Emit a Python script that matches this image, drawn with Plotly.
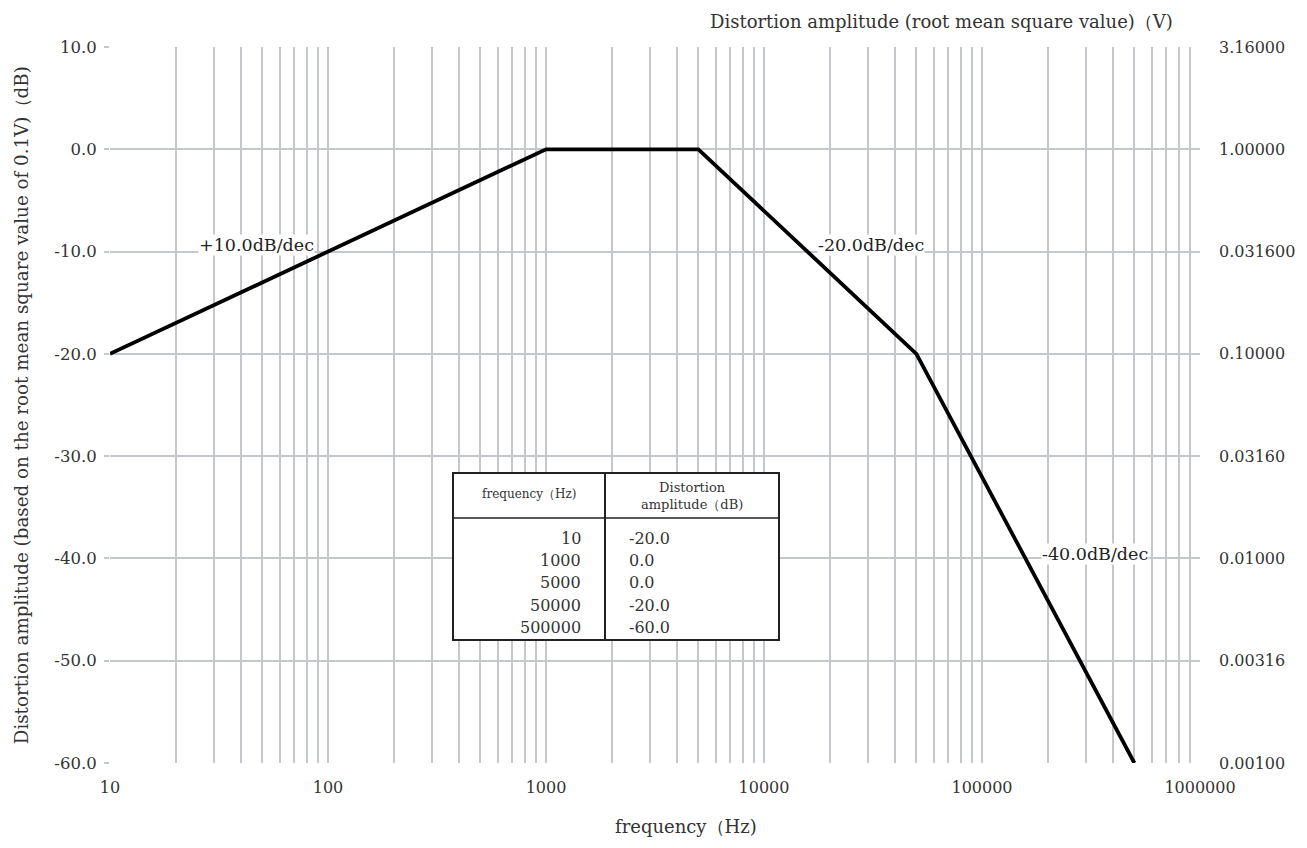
import math
import plotly.graph_objects as go

# ---- data ----
freq_hz = [10, 1000, 5000, 50000, 500000]
amp_db = [-20.0, 0.0, 0.0, -20.0, -60.0]

y_ticks_db = [10, 0, -10, -20, -30, -40, -50, -60]
y_tick_left = ["10.0", "0.0", "-10.0", "-20.0", "-30.0", "-40.0", "-50.0", "-60.0"]
y_tick_right = ["3.16000", "1.00000", "0.031600", "0.10000", "0.03160", "0.01000", "0.00316", "0.00100"]

x_decades = [10, 100, 1000, 10000, 100000, 1000000]
x_decade_labels = ["10", "100", "1000", "10000", "100000", "1000000"]

slope_labels = ["+10.0dB/dec", "-20.0dB/dec", "-40.0dB/dec"]
slope_pos_x = [47, 31000, 330000]
slope_pos_y = [-9.4, -9.4, -39.6]

FONT = "DejaVu Serif, Liberation Serif, serif"
GRID = "#c4c8cc"
TXT = "#333333"

# all 1..9 multiples for grid
x_tickvals, x_ticktext = [], []
for i, d in enumerate(x_decades[:-1]):
    for m in range(1, 10):
        x_tickvals.append(d * m)
        x_ticktext.append(x_decade_labels[i] if m == 1 else "")
x_tickvals.append(x_decades[-1])
x_ticktext.append(x_decade_labels[-1])

fig = go.Figure()
fig.add_trace(go.Scatter(x=freq_hz, y=amp_db, mode="lines",
                         line=dict(color="black", width=3.8), showlegend=False,
                         hoverinfo="skip"))
fig.add_trace(go.Scatter(x=freq_hz, y=amp_db, yaxis="y2", mode="lines",
                         line=dict(color="rgba(0,0,0,0)", width=0), showlegend=False,
                         hoverinfo="skip"))

fig.update_layout(
    width=1307, height=848,
    margin=dict(l=110, r=107, t=47, b=85),
    paper_bgcolor="white", plot_bgcolor="white",
    font=dict(family=FONT, size=14, color=TXT),
    xaxis=dict(type="log", range=[1, 6], tickvals=x_tickvals, ticktext=x_ticktext,
               showgrid=True, gridcolor=GRID, gridwidth=2, zeroline=False,
               ticks="", ticklabelstandoff=13, showline=False,
               tickfont=dict(size=16, color=TXT)),
    yaxis=dict(range=[-60, 10], tickvals=y_ticks_db, ticktext=y_tick_left,
               showgrid=True, gridcolor=GRID, gridwidth=1.5, zeroline=False,
               ticks="outside", ticklen=5, tickcolor=GRID, tickwidth=1.5,
               ticklabelstandoff=4,
               showline=False, tickfont=dict(size=16.5, color=TXT)),
    yaxis2=dict(range=[-60, 10], overlaying="y", side="right", tickvals=y_ticks_db,
                ticktext=y_tick_right, showgrid=False, zeroline=False, ticks="",
                ticklabelstandoff=18, tickfont=dict(size=16, color=TXT)),
)

ann = []
for t, x, y in zip(slope_labels, slope_pos_x, slope_pos_y):
    ann.append(dict(x=math.log10(x), y=y, xref="x", yref="y", text=t, showarrow=False,
                    xanchor="center", yanchor="middle",
                    bgcolor="white", font=dict(size=17.5, color="#222"), borderpad=0))

# titles
ann.append(dict(x=-0.0814, y=0.5, xref="paper", yref="paper", textangle=-90,
                text="Distortion amplitude (based on the root mean square value of 0.1V)（dB)",
                showarrow=False, font=dict(size=18.3, color=TXT), xanchor="center", yanchor="middle"))
ann.append(dict(x=0.977, y=1.035, xref="paper", yref="paper",
                text="Distortion amplitude (root mean square value)（V)",
                showarrow=False, font=dict(size=18, color=TXT), xanchor="right", yanchor="middle"))
ann.append(dict(x=0.528, y=-0.0880, xref="paper", yref="paper",
                text="frequency（Hz)", showarrow=False, font=dict(size=18, color=TXT),
                xanchor="center", yanchor="middle"))

# table
def px2x(px):
    return (px - 110) / 1090.0

def py2y(py):
    return (763 - py) / 716.0

tx0, tx1, txd = px2x(453), px2x(779), px2x(605)
ty0, ty1, tyh = py2y(473), py2y(640), py2y(518)

shapes = [
    dict(type="rect", xref="paper", yref="paper", x0=tx0, x1=tx1, y0=ty1, y1=ty0,
         line=dict(color="#222", width=2), fillcolor="white", layer="above"),
    dict(type="line", xref="paper", yref="paper", x0=txd, x1=txd, y0=ty1, y1=ty0,
         line=dict(color="#222", width=2), layer="above"),
    dict(type="line", xref="paper", yref="paper", x0=tx0, x1=tx1, y0=tyh, y1=tyh,
         line=dict(color="#222", width=1.5), layer="above"),
]
ann.append(dict(x=(tx0 + txd) / 2, y=py2y(494), xref="paper", yref="paper",
                xanchor="center", yanchor="middle",
                text="frequency（Hz)", showarrow=False, font=dict(size=12, color=TXT)))
ann.append(dict(x=(txd + tx1) / 2, y=py2y(496), xref="paper", yref="paper",
                xanchor="center", yanchor="middle",
                text="Distortion<br>amplitude（dB)", showarrow=False,
                font=dict(size=13, color=TXT)))
row_py = [538, 560, 582, 605, 627]
for f, a, py in zip(freq_hz, amp_db, row_py):
    ann.append(dict(x=px2x(583), y=py2y(py), xref="paper", yref="paper", text=str(f),
                    showarrow=False, xanchor="right", yanchor="middle",
                    font=dict(size=16, color=TXT)))
    ann.append(dict(x=px2x(627), y=py2y(py), xref="paper", yref="paper", text=f"{a:.1f}",
                    showarrow=False, xanchor="left", yanchor="middle",
                    font=dict(size=16, color=TXT)))

fig.update_layout(annotations=ann, shapes=shapes)
fig.write_html("out.html")
